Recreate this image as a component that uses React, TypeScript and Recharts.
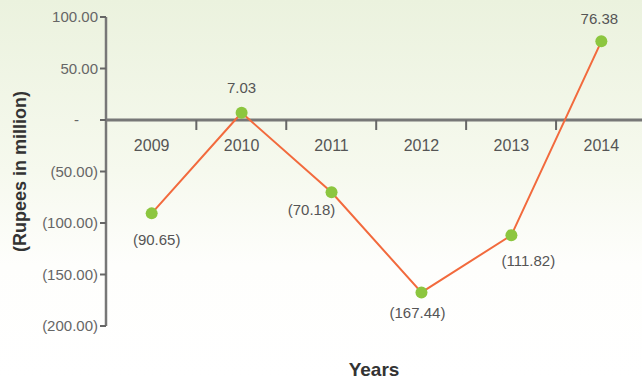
import { LineChart, Line, XAxis, YAxis, ReferenceLine, ReferenceDot, LabelList } from "recharts";

const years = ["2009", "2010", "2011", "2012", "2013", "2014"];
const values = [-90.65, 7.03, -70.18, -167.44, -111.82, 76.38];
const yTicks = [-200, -150, -100, -50, 0, 50, 100];

const data = years.map((year, i) => ({ year, value: values[i] }));

const W = 642;
const H = 379;
const LEFT = 106;
const band = (W - LEFT) / years.length;
const font = "'Liberation Sans', Arial, sans-serif";

// where each value label sits relative to its dot
const labelOffsets = [
  { dx: 5, dy: 32 },
  { dx: 0, dy: -20 },
  { dx: -20, dy: 23 },
  { dx: -4, dy: 26 },
  { dx: 17, dy: 31 },
  { dx: -2, dy: -17 },
];

const fmt = (v: number) => {
  if (v === 0) return "-";
  const s = Math.abs(v).toFixed(2);
  return v < 0 ? `(${s})` : s;
};

const YTick = (props: any) => {
  const { x, y, payload } = props;
  const v = payload.value;
  return (
    <text
      x={v === 0 ? x - 19 : x}
      y={y}
      dy={5}
      textAnchor="end"
      fill="#666"
      fontSize={15}
      fontFamily={font}
    >
      {fmt(v)}
    </text>
  );
};

const YearMark = (props: any) => {
  const { cx, cy, year } = props;
  const last = year === years[years.length - 1];
  return (
    <g>
      <text x={cx} y={cy + 31} textAnchor="middle" fill="#555" fontSize={16} fontFamily={font}>
        {year}
      </text>
      {!last && <line x1={cx + band / 2} y1={cy} x2={cx + band / 2} y2={cy + 10} stroke="#666" strokeWidth={2} />}
    </g>
  );
};

const ValueLabel = (props: any) => {
  const { x, y, value, index } = props;
  const o = labelOffsets[index];
  return (
    <text x={x + o.dx} y={y + o.dy} textAnchor="middle" fill="#555" fontSize={15} fontFamily={font}>
      {fmt(value)}
    </text>
  );
};

export default function App() {
  return (
    <div
      style={{
        position: "absolute",
        left: 0,
        top: 0,
        width: W,
        height: H,
        background: "linear-gradient(to bottom, #ebf2de 0%, #f6f9ee 45%, #fefefc 70%, #ffffff 100%)",
      }}
    >
      <LineChart width={W} height={H} data={data} margin={{ top: 17, right: 0, bottom: 0, left: 0 }}>
        <XAxis
          dataKey="year"
          axisLine={false}
          tickLine={false}
          tick={false}
          height={53}
          padding={{ left: band / 2 + 1, right: band / 2 - 4 }}
          label={{ value: "Years", position: "insideBottom", offset: 3, fill: "#333", fontSize: 19, fontWeight: "bold", fontFamily: font }}
        />
        <YAxis
          domain={[-200, 100]}
          ticks={yTicks}
          width={LEFT}
          tick={<YTick />}
          tickSize={6}
          tickLine={{ stroke: "#666", strokeWidth: 2 }}
          axisLine={{ stroke: "#777", strokeWidth: 2.5 }}
          label={{
            value: "(Rupees in million)",
            angle: -90,
            position: "insideLeft",
            offset: 20,
            style: { textAnchor: "middle", fill: "#333", fontSize: 18, fontWeight: "bold", fontFamily: font },
          }}
        />
        <ReferenceLine y={0} stroke="#777" strokeWidth={3} />
        {years.map((y) => (
          <ReferenceDot key={y} x={y} y={0} r={0} shape={(p: any) => <YearMark {...p} year={y} />} />
        ))}
        <Line
          dataKey="value"
          stroke="#f26a3d"
          strokeWidth={2}
          dot={{ r: 6, fill: "#8cc63f", stroke: "none" }}
          isAnimationActive={false}
        >
          <LabelList dataKey="value" content={<ValueLabel />} />
        </Line>
      </LineChart>
    </div>
  );
}
